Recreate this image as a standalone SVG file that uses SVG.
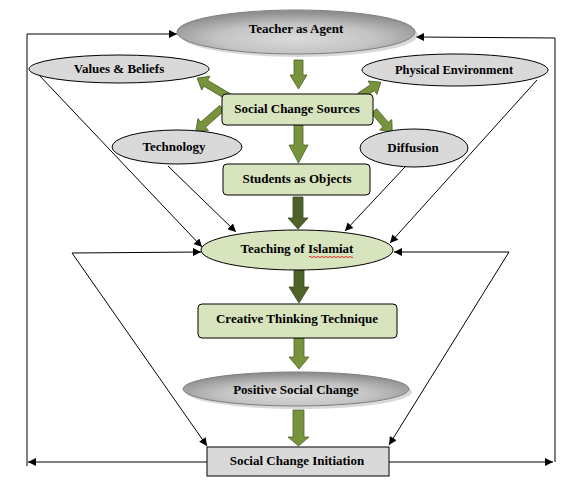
<svg xmlns="http://www.w3.org/2000/svg" width="586" height="484" viewBox="0 0 586 484">
  <defs>
    <radialGradient id="gGray" cx="50%" cy="65%" r="60%">
      <stop offset="0" stop-color="#dadada"/>
      <stop offset="0.55" stop-color="#c4c4c4"/>
      <stop offset="1" stop-color="#8f8f8f"/>
    </radialGradient>
    <marker id="ah" viewBox="0 0 10 10" refX="10" refY="5" markerWidth="9" markerHeight="8" markerUnits="userSpaceOnUse" orient="auto">
      <path d="M0,0 L10,5 L0,10 z" fill="#000"/>
    </marker>
  </defs>
  <style>
    .ln { fill: none; stroke: #000; stroke-width: 1; marker-end: url(#ah); }
    .ol { fill: #77933c; stroke: #4f6228; stroke-width: 0.8; }
    .dk { fill: #4f6228; stroke: #3a4a1c; stroke-width: 0.8; }
    .lg { fill: #d9d9d9; stroke: #000; stroke-width: 1; }
    .gb { fill: #d7e4bd; stroke: #000; stroke-width: 1; }
    .gr { fill: url(#gGray); stroke: #7f7f7f; stroke-width: 1; }
    .sh { fill: #bfbfbf; opacity: 0.6; }
    text { font-family: "Liberation Serif", "Times New Roman", serif; font-weight: bold; font-size: 13px; fill: #000; text-anchor: middle; }
  </style>
  <rect width="586" height="484" fill="#fff"/>

  <g id="connectors">
    <polyline class="ln" points="207,462 28,462"/>
    <polyline class="ln" points="27,466 27,34 177,34"/>
    <polyline class="ln" points="389,462 553,462"/>
    <polyline class="ln" points="555,462 555,38 416,37"/>
    <polyline class="ln" points="72,253 201,252"/>
    <polyline class="ln" points="72,253 207,446"/>
    <polyline class="ln" points="509,252 394,252"/>
    <polyline class="ln" points="509,252 389,445"/>
    <polyline class="ln" points="38,74 202,247"/>
    <polyline class="ln" points="168,166 236,232"/>
    <polyline class="ln" points="405,167 345,231"/>
    <polyline class="ln" points="537,80 390,243"/>

    <polygon class="ol" points="294,60 303,60 303,75 307,75 298.5,89 290,75 294,75"/>
    <polygon class="ol" points="294,125 303,125 303,145 308,145 298.5,163 289,145 294,145"/>
    <polygon class="dk" points="293,197 303,197 303,218 308,218 298,229 288,218 293,218"/>
    <polygon class="dk" points="294,270 304,270 304,287 309,287 299,303 289,287 294,287"/>
    <polygon class="ol" points="294,338 304,338 304,357 309,357 299,369 289,357 294,357"/>
    <polygon class="ol" points="293,410 304,410 304,437 309,437 298.5,446 288,437 293,437"/>

    <polygon class="ol" transform="translate(229,97) rotate(-149.3)" points="0,-3.5 27,-3.5 27,-8 37,0 27,8 27,3.5 0,3.5"/>
    <polygon class="ol" transform="translate(222,108) rotate(138.5)" points="0,-3.5 25,-3.5 25,-8 35,0 25,8 25,3.5 0,3.5"/>
    <polygon class="ol" transform="translate(360,96) rotate(-33.7)" points="0,-3.5 15,-3.5 15,-8 25,0 15,8 15,3.5 0,3.5"/>
    <polygon class="ol" transform="translate(374,111) rotate(49.4)" points="0,-3.5 18,-3.5 18,-8 28,0 18,8 18,3.5 0,3.5"/>
  </g>

  <g id="teacher">
    <ellipse class="sh" cx="299" cy="35" rx="119" ry="22"/>
    <ellipse class="gr" cx="296" cy="32" rx="119" ry="22"/>
    <text x="296" y="33">Teacher as Agent</text>
  </g>
  <g id="values">
    <ellipse class="lg" cx="119" cy="69" rx="90" ry="14"/>
    <text x="119" y="73">Values &amp; Beliefs</text>
  </g>
  <g id="physical">
    <ellipse class="lg" cx="455" cy="70" rx="93" ry="16"/>
    <text x="454" y="74" style="font-size:12.5px">Physical Environment</text>
  </g>
  <g id="sources">
    <rect class="gb" x="222" y="94" width="151" height="31" rx="4"/>
    <text x="297" y="113">Social Change Sources</text>
  </g>
  <g id="technology">
    <ellipse class="lg" cx="177" cy="147" rx="65" ry="17"/>
    <text x="174" y="151">Technology</text>
  </g>
  <g id="diffusion">
    <ellipse class="lg" cx="414" cy="148" rx="54" ry="19"/>
    <text x="413" y="152">Diffusion</text>
  </g>
  <g id="students">
    <rect class="gb" x="223" y="164" width="147" height="31" rx="4"/>
    <text x="297" y="183">Students as Objects</text>
  </g>
  <g id="teaching">
    <ellipse class="gb" cx="297" cy="250" rx="96" ry="20"/>
    <text x="297" y="253">Teaching of Islamiat</text>
    <path d="M309,257 q1,-1.5 2,0 t2,0 t2,0 t2,0 t2,0 t2,0 t2,0 t2,0 t2,0 t2,0 t2,0 t2,0 t2,0 t2,0 t2,0 t2,0 t2,0 t2,0 t2,0 t2,0 t2,0 t2,0" fill="none" stroke="#e00000" stroke-width="0.8"/>
  </g>
  <g id="creative">
    <rect class="gb" x="198" y="304" width="199" height="34" rx="4"/>
    <text x="297" y="323">Creative Thinking Technique</text>
  </g>
  <g id="positive">
    <ellipse class="sh" cx="299" cy="392" rx="113" ry="17"/>
    <ellipse class="gr" cx="296" cy="389" rx="113" ry="17"/>
    <text x="296" y="394">Positive Social Change</text>
  </g>
  <g id="initiation">
    <rect class="lg" x="207" y="447" width="182" height="29"/>
    <text x="297" y="465">Social Change Initiation</text>
  </g>
</svg>
